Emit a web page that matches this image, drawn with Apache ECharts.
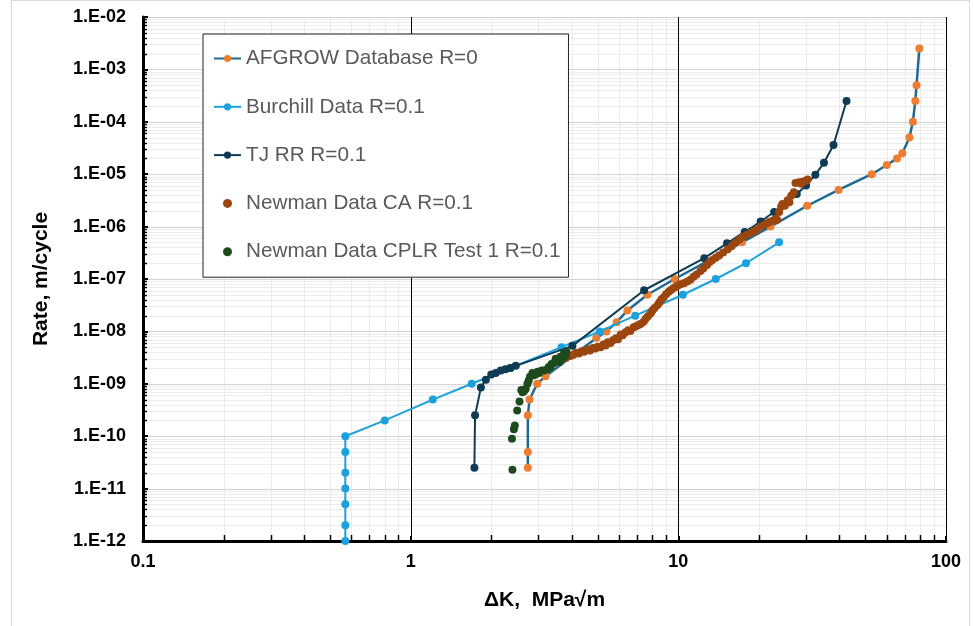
<!DOCTYPE html>
<html><head><meta charset="utf-8">
<script src="https://cdn.jsdelivr.net/npm/echarts@6/dist/echarts.min.js"></script>
<style>html,body{margin:0;padding:0;background:#fff}#c{width:974px;height:626px}</style>
</head><body><div id="c"></div>
<script>
// ---- axis ticks ----
const xTicks = [0.1, 1, 10, 100];
const yTicks = [1e-12, 1e-11, 1e-10, 1e-9, 1e-8, 1e-7, 1e-6, 1e-5, 1e-4, 1e-3, 1e-2];
const minorMult = [2, 3, 4, 5, 6, 7, 8, 9];

// ---- series: AFGROW Database R=0 ----
const afgrowK    = [2.74, 2.74, 2.74, 2.78, 2.97, 3.19, 4.94, 5.39, 5.88, 6.45, 7.66, 9.69, 17.3, 22.1, 30.3, 39.7, 52.8, 60.1, 65.6, 68.7, 73.0, 75.2, 76.8, 77.6, 79.5];
const afgrowRate = [2.5e-11, 5e-11, 2.5e-10, 5e-10, 1e-9, 1.4e-9, 7.5e-9, 1e-8, 1.5e-8, 2.5e-8, 5e-8, 1e-7, 5e-7, 1e-6, 2.5e-6, 5e-6, 1e-5, 1.5e-5, 2e-5, 2.5e-5, 5e-5, 1e-4, 2.5e-4, 5e-4, 2.5e-3];

// ---- series: Burchill Data R=0.1 ----
const burchillK    = [0.57, 0.57, 0.57, 0.57, 0.57, 0.57, 0.57, 0.80, 1.21, 1.69, 2.36, 3.66, 5.09, 6.9, 10.4, 13.8, 17.9, 23.8];
const burchillRate = [1e-12, 2e-12, 5e-12, 1e-11, 2e-11, 5e-11, 1e-10, 2e-10, 5e-10, 1e-9, 2e-9, 5e-9, 1e-8, 2e-8, 5e-8, 1e-7, 2e-7, 5e-7];

// ---- series: TJ RR R=0.1 ----
const tjK    = [1.73, 1.74, 1.83, 1.91, 2.0, 2.08, 2.17, 2.26, 2.36, 2.47, 4.02, 7.45, 12.5, 15.2, 17.7, 20.3, 22.8, 27.7, 30.0, 32.5, 35.0, 38.0, 42.5];
const tjRate = [2.5e-11, 2.5e-10, 8.5e-10, 1.2e-9, 1.5e-9, 1.6e-9, 1.8e-9, 1.9e-9, 2.0e-9, 2.2e-9, 5.3e-9, 6.1e-8, 2.5e-7, 4.8e-7, 7.9e-7, 1.25e-6, 1.9e-6, 4.2e-6, 6.1e-6, 9.8e-6, 1.65e-5, 3.6e-5, 2.5e-4];

// ---- series: Newman Data CA R=0.1 ----
const caK = [3.65, 3.73, 3.80, 3.88, 3.95, 4.06, 4.15, 4.25, 4.35, 4.45, 4.58, 4.68, 4.80, 4.90, 5.00, 5.12, 5.25, 5.35, 5.45, 5.58,
  5.70, 5.85, 5.95, 6.09, 6.20, 6.35, 6.50, 6.62, 6.81, 6.95, 7.10, 7.25, 7.42, 7.55, 7.70, 7.88, 8.00, 8.15, 8.37, 8.50,
  8.65, 8.82, 9.00, 9.20, 9.36, 9.55, 9.75, 9.94, 10.2, 10.5, 10.8, 11.1, 11.4, 11.7, 12.1, 12.4, 12.8, 13.1, 13.4, 13.8,
  14.2, 14.7, 15.3, 15.8, 16.3, 16.9, 17.4, 18.0, 18.7, 19.3, 19.6, 20.3, 20.8, 21.4, 21.9, 22.5, 23.1, 23.4, 23.8, 24.2,
  24.5, 25.0, 25.6, 26.0, 26.4, 27.0, 27.4, 28.2, 28.8, 29.1, 29.8, 30.4];
const caRate = [3.0e-9, 3.3e-9, 3.1e-9, 3.5e-9, 3.4e-9, 3.6e-9, 3.9e-9, 3.8e-9, 4.2e-9, 4.1e-9, 4.5e-9, 4.3e-9, 4.8e-9, 4.7e-9, 5.1e-9, 5.0e-9, 5.6e-9, 5.4e-9, 6.2e-9, 6.0e-9,
  6.8e-9, 7.4e-9, 7.1e-9, 8.7e-9, 8.4e-9, 9.6e-9, 1.05e-8, 1.02e-8, 1.2e-8, 1.25e-8, 1.32e-8, 1.40e-8, 1.52e-8, 1.75e-8, 1.95e-8, 2.2e-8, 2.5e-8, 2.8e-8, 3.2e-8, 3.6e-8,
  4.1e-8, 4.5e-8, 5.1e-8, 5.7e-8, 6.1e-8, 6.6e-8, 7.0e-8, 7.4e-8, 7.9e-8, 8.3e-8, 9.0e-8, 9.7e-8, 1.1e-7, 1.22e-7, 1.42e-7, 1.58e-7, 1.85e-7, 2.1e-7, 2.3e-7, 2.55e-7,
  2.8e-7, 3.2e-7, 3.7e-7, 4.2e-7, 4.9e-7, 5.6e-7, 6.3e-7, 6.9e-7, 7.6e-7, 8.2e-7, 8.7e-7, 9.9e-7, 1.06e-6, 1.15e-6, 1.22e-6, 1.3e-6, 1.42e-6, 1.35e-6, 1.9e-6, 2.4e-6,
  2.7e-6, 2.5e-6, 3.2e-6, 2.9e-6, 3.9e-6, 4.5e-6, 6.8e-6, 7.0e-6, 6.6e-6, 7.2e-6, 7.4e-6, 7.9e-6];

// ---- series: Newman Data CPLR Test 1 R=0.1 ----
const cplrK = [2.40, 2.39, 2.43, 2.45, 2.50, 2.55, 2.59, 2.62, 2.65, 2.69, 2.73, 2.76, 2.79, 2.85, 2.88, 2.93, 2.98, 3.02, 3.09, 3.15,
  3.24, 3.28, 3.33, 3.36, 3.43, 3.48, 3.55, 3.60, 3.63, 3.70, 3.74, 3.79, 3.82];
const cplrRate = [2.3e-11, 8.9e-11, 1.35e-10, 1.6e-10, 3.1e-10, 4.6e-10, 7.6e-10, 6.9e-10, 7.2e-10, 8.0e-10, 1.0e-9, 1.15e-9, 1.37e-9, 1.6e-9, 1.45e-9, 1.5e-9, 1.7e-9, 1.6e-9, 1.8e-9, 1.8e-9,
  1.9e-9, 2.1e-9, 2.1e-9, 2.4e-9, 2.5e-9, 3.0e-9, 2.8e-9, 2.6e-9, 3.3e-9, 3.1e-9, 3.9e-9, 3.4e-9, 4.1e-9];

const names = ['AFGROW Database R=0', 'Burchill Data R=0.1', 'TJ RR R=0.1', 'Newman Data CA R=0.1', 'Newman Data CPLR Test 1 R=0.1'];

const zip = (a, b) => a.map((v, i) => [v, b[i]]);
const xMin = xTicks[0], xMax = xTicks[xTicks.length - 1];
const yMin = yTicks[0], yMax = yTicks[yTicks.length - 1];
const minorX = [];
xTicks.slice(0, -1).forEach(d => minorMult.forEach(m => minorX.push(m * d)));
const minorY = [];
yTicks.slice(0, -1).forEach(d => minorMult.forEach(m => minorY.push(m * d)));

const FONT = "'Liberation Sans', Arial, sans-serif";
const crisp = v => Math.round(v) + 0.5;

function vLines(vals, color, width, z) {
  return {type: 'custom', silent: true, z: z, data: vals.map(v => [v, yMin]),
    renderItem: (p, api) => { const a = api.coord([api.value(0), yMin]); const b = api.coord([api.value(0), yMax]);
      return {type: 'line', shape: {x1: crisp(a[0]), y1: a[1], x2: crisp(a[0]), y2: b[1]}, style: {stroke: color, lineWidth: width}}; }};
}
function hLines(vals, color, width, z) {
  return {type: 'custom', silent: true, z: z, data: vals.map(v => [xMin, v]),
    renderItem: (p, api) => { const a = api.coord([xMin, api.value(1)]); const b = api.coord([xMax, api.value(1)]);
      return {type: 'line', shape: {x1: a[0], y1: crisp(a[1]), x2: b[0], y2: crisp(a[1])}, style: {stroke: color, lineWidth: width}}; }};
}

const chart = echarts.init(document.getElementById('c'), null, {renderer: 'canvas'});
chart.setOption({
  animation: false,
  graphic: [{type: 'rect', shape: {x: 11.5, y: 0.5, width: 958, height: 640}, style: {fill: 'none', stroke: '#d9d9d9', lineWidth: 1}, z: -10, silent: true}],
  grid: {left: 143, right: 28, top: 17, bottom: 85, containLabel: false},
  legend: {
    orient: 'vertical', left: 203, top: 34,
    padding: [14, 8, 15, 10], itemGap: 27.3, itemWidth: 27, itemHeight: 9,
    backgroundColor: '#fff', borderColor: '#222', borderWidth: 1,
    textStyle: {fontSize: 20.7, color: '#595959', fontFamily: FONT},
    data: names, selectedMode: false, z: 20
  },
  xAxis: {
    type: 'log', logBase: 10, min: xMin, max: xMax, splitNumber: 3, z: 8,
    name: 'ΔK,  MPa√m', nameLocation: 'middle', nameGap: 49,
    nameTextStyle: {fontSize: 21, fontWeight: 'bold', color: '#000', fontFamily: FONT},
    axisLine: {show: true, onZero: false, lineStyle: {color: '#000', width: 3}},
    axisTick: {show: true, inside: true, length: 5, lineStyle: {color: '#000', width: 2}},
    axisLabel: {fontSize: 18, fontWeight: 'bold', color: '#000', fontFamily: FONT, margin: 12,
      formatter: v => (v < 1 ? Number(v).toFixed(1) : String(Math.round(v))), showMinLabel: true, showMaxLabel: true},
    splitLine: {show: false}
  },
  yAxis: {
    type: 'log', logBase: 10, min: yMin, max: yMax, splitNumber: 10, z: 8,
    name: 'Rate, m/cycle', nameLocation: 'middle', nameGap: 91, nameRotate: 90,
    nameTextStyle: {fontSize: 21, fontWeight: 'bold', color: '#000', fontFamily: FONT},
    axisLine: {show: true, onZero: false, lineStyle: {color: '#000', width: 3}},
    axisTick: {show: true, inside: true, length: 5, lineStyle: {color: '#000', width: 2}},
    axisLabel: {fontSize: 18, fontWeight: 'bold', color: '#000', fontFamily: FONT, margin: 17,
      formatter: v => { const e = Math.round(Math.log10(v)); return '1.E' + (e < 0 ? '-' : '+') + String(Math.abs(e)).padStart(2, '0'); },
      showMinLabel: true, showMaxLabel: true},
    splitLine: {show: false}
  },
  series: [
    vLines(minorX, '#ebebeb', 1, 0),
    hLines(minorY, '#ececec', 1, 0),
    hLines(yTicks, '#d4d4d4', 1, 1),
    vLines(xTicks.slice(1), '#000', 1, 2),
    // minor x ticks
    {type: 'custom', silent: true, z: 5, data: minorX.map(v => [v, yMin]),
      renderItem: (p, api) => { const a = api.coord([api.value(0), yMin]);
        return {type: 'line', shape: {x1: crisp(a[0]), y1: a[1], x2: crisp(a[0]), y2: a[1] - 6}, style: {stroke: '#000', lineWidth: 1.5}}; }},
    // minor y ticks
    {type: 'custom', silent: true, z: 5, data: minorY.map(v => [xMin, v]),
      renderItem: (p, api) => { const a = api.coord([xMin, api.value(1)]);
        return {type: 'line', shape: {x1: a[0], y1: crisp(a[1]), x2: a[0] + 4, y2: crisp(a[1])}, style: {stroke: '#000', lineWidth: 1.5}}; }},
    {name: names[0], type: 'line', z: 10, data: zip(afgrowK, afgrowRate), symbol: 'circle', symbolSize: 8, showAllSymbol: true,
      lineStyle: {color: '#1F6A92', width: 2.5}, itemStyle: {color: '#ED7D31', borderWidth: 0}},
    {name: names[1], type: 'line', z: 11, data: zip(burchillK, burchillRate), symbol: 'circle', symbolSize: 8, showAllSymbol: true,
      lineStyle: {color: '#1BA1DB', width: 2}, itemStyle: {color: '#1BA1DB', borderWidth: 0}},
    {name: names[2], type: 'line', z: 12, data: zip(tjK, tjRate), symbol: 'circle', symbolSize: 8, showAllSymbol: true,
      lineStyle: {color: '#0F3B55', width: 2}, itemStyle: {color: '#0F3B55', borderWidth: 0}},
    {name: names[3], type: 'scatter', z: 13, data: zip(caK, caRate), symbol: 'circle', symbolSize: 8,
      itemStyle: {color: '#9C460F', opacity: 1}},
    {name: names[4], type: 'scatter', z: 14, data: zip(cplrK, cplrRate), symbol: 'circle', symbolSize: 8,
      itemStyle: {color: '#1E4B1E', opacity: 1}}
  ]
});
</script></body></html>
